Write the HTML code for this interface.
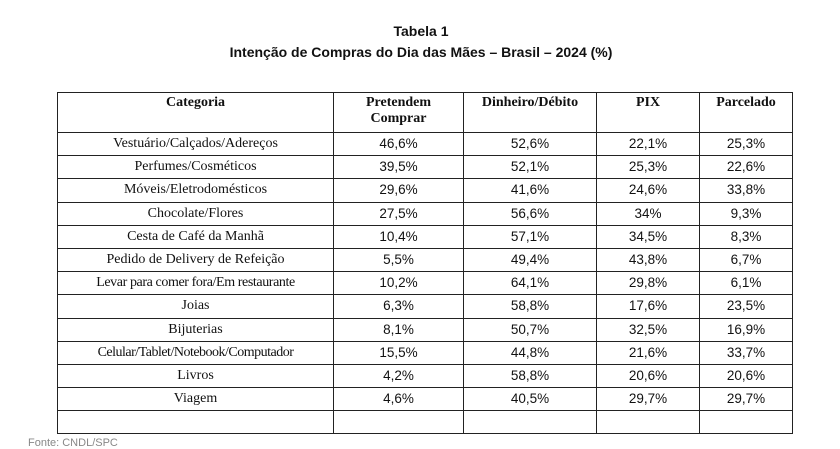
<!DOCTYPE html>
<html><head><meta charset="utf-8"><style>
body{margin:0;width:840px;height:441px;background:#fff;overflow:hidden;position:relative}
.t{position:absolute;left:0;width:842px;text-align:center;font-family:"Liberation Sans",sans-serif;font-weight:bold;font-size:14px;color:#111}
table{position:absolute;left:57px;top:92px;border-collapse:collapse;table-layout:fixed}
td,th{border:1.5px solid #222;padding:0;text-align:center;height:22.2px;font-size:13.5px;color:#111;line-height:16px}
th{font-family:"Liberation Serif",serif;font-weight:bold;vertical-align:top;height:37px;padding-top:2px;font-size:14px}
td{font-family:"Liberation Sans",sans-serif}
td:first-child{font-family:"Liberation Serif",serif;font-size:14px}
.foot{position:absolute;left:28px;top:437px;font:11px "Liberation Sans",sans-serif;color:#888}
</style></head><body>
<div class="t" style="top:23px">Tabela 1</div>
<div class="t" style="top:44px">Intenção de Compras do Dia das Mães – Brasil – 2024 (%)</div>
<table>
<colgroup><col style="width:276px"><col style="width:130px"><col style="width:133px"><col style="width:103px"><col style="width:93px"></colgroup>
<tr><th>Categoria</th><th>Pretendem<br>Comprar</th><th>Dinheiro/Débito</th><th>PIX</th><th>Parcelado</th></tr>
<tr><td>Vestuário/Calçados/Adereços</td><td>46,6%</td><td>52,6%</td><td>22,1%</td><td>25,3%</td></tr>
<tr><td>Perfumes/Cosméticos</td><td>39,5%</td><td>52,1%</td><td>25,3%</td><td>22,6%</td></tr>
<tr><td>Móveis/Eletrodomésticos</td><td>29,6%</td><td>41,6%</td><td>24,6%</td><td>33,8%</td></tr>
<tr><td>Chocolate/Flores</td><td>27,5%</td><td>56,6%</td><td>34%</td><td>9,3%</td></tr>
<tr><td>Cesta de Café da Manhã</td><td>10,4%</td><td>57,1%</td><td>34,5%</td><td>8,3%</td></tr>
<tr><td>Pedido de Delivery de Refeição</td><td>5,5%</td><td>49,4%</td><td>43,8%</td><td>6,7%</td></tr>
<tr><td style="letter-spacing:-0.4px">Levar para comer fora/Em restaurante</td><td>10,2%</td><td>64,1%</td><td>29,8%</td><td>6,1%</td></tr>
<tr><td>Joias</td><td>6,3%</td><td>58,8%</td><td>17,6%</td><td>23,5%</td></tr>
<tr><td>Bijuterias</td><td>8,1%</td><td>50,7%</td><td>32,5%</td><td>16,9%</td></tr>
<tr><td style="letter-spacing:-0.5px">Celular/Tablet/Notebook/Computador</td><td>15,5%</td><td>44,8%</td><td>21,6%</td><td>33,7%</td></tr>
<tr><td>Livros</td><td>4,2%</td><td>58,8%</td><td>20,6%</td><td>20,6%</td></tr>
<tr><td>Viagem</td><td>4,6%</td><td>40,5%</td><td>29,7%</td><td>29,7%</td></tr>
<tr><td></td><td></td><td></td><td></td><td></td></tr>
</table>
<div class="foot">Fonte: CNDL/SPC</div>
</body></html>
